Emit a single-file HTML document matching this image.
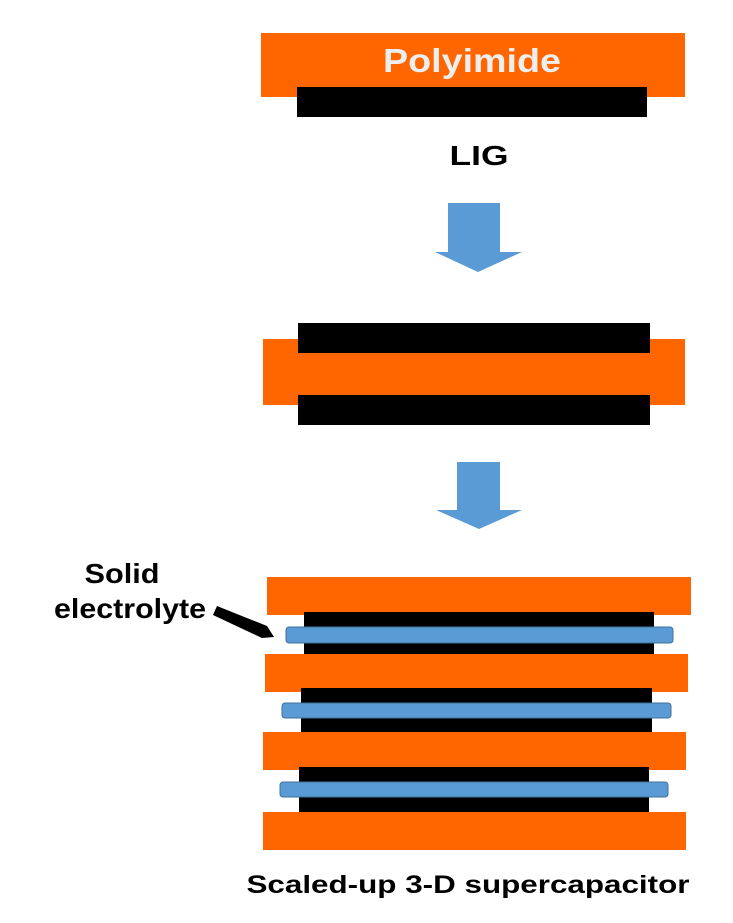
<!DOCTYPE html>
<html><head><meta charset="utf-8"><style>html,body{margin:0;padding:0;background:#fff}svg{display:block}</style></head>
<body>
<svg width="733" height="923" viewBox="0 0 733 923" xmlns="http://www.w3.org/2000/svg" font-family="Liberation Sans, Arial, sans-serif" font-weight="bold">
<rect x="261" y="33" width="424" height="64" fill="#ff6600"/>
<rect x="297" y="87" width="350" height="30" fill="#000"/>
<text x="472" y="72" text-anchor="middle" font-size="33" fill="#eeeeee" textLength="178" lengthAdjust="spacingAndGlyphs">Polyimide</text>
<text x="479" y="165" text-anchor="middle" font-size="28" fill="#000" textLength="59" lengthAdjust="spacingAndGlyphs">LIG</text>
<polygon points="448,203 500,203 500,252 522,252 478,272 435,252 448,252" fill="#5b9bd5"/>
<rect x="263" y="339" width="422" height="66" fill="#ff6600"/>
<rect x="298" y="323" width="352" height="30" fill="#000"/>
<rect x="298" y="395" width="352" height="30" fill="#000"/>
<polygon points="457,462 500,462 500,510 522,510 479,529 436,510 457,510" fill="#5b9bd5"/>
<rect x="267" y="577" width="424" height="38" fill="#ff6600"/>
<rect x="304" y="612" width="350" height="48" fill="#000"/>
<rect x="286" y="627" width="387" height="16" rx="3" fill="#5b9bd5" stroke="#41719c" stroke-width="1"/>
<rect x="265" y="654" width="423" height="38" fill="#ff6600"/>
<rect x="301" y="688" width="351" height="49" fill="#000"/>
<rect x="282" y="703" width="389" height="15" rx="3" fill="#5b9bd5" stroke="#41719c" stroke-width="1"/>
<rect x="263" y="732" width="423" height="38" fill="#ff6600"/>
<rect x="299" y="767" width="350" height="50" fill="#000"/>
<rect x="280" y="782" width="388" height="15" rx="3" fill="#5b9bd5" stroke="#41719c" stroke-width="1"/>
<rect x="263" y="812" width="423" height="38" fill="#ff6600"/>
<text x="122" y="583" text-anchor="middle" font-size="28" fill="#000" textLength="75" lengthAdjust="spacingAndGlyphs">Solid</text>
<text x="130" y="618" text-anchor="middle" font-size="28" fill="#000" textLength="152" lengthAdjust="spacingAndGlyphs">electrolyte</text>
<polygon points="217,606 267,626 274,637 262,638 213,615" fill="#000"/>
<text x="468" y="893" text-anchor="middle" font-size="25" fill="#000" textLength="443" lengthAdjust="spacingAndGlyphs">Scaled-up 3-D supercapacitor</text>
</svg>
</body></html>
